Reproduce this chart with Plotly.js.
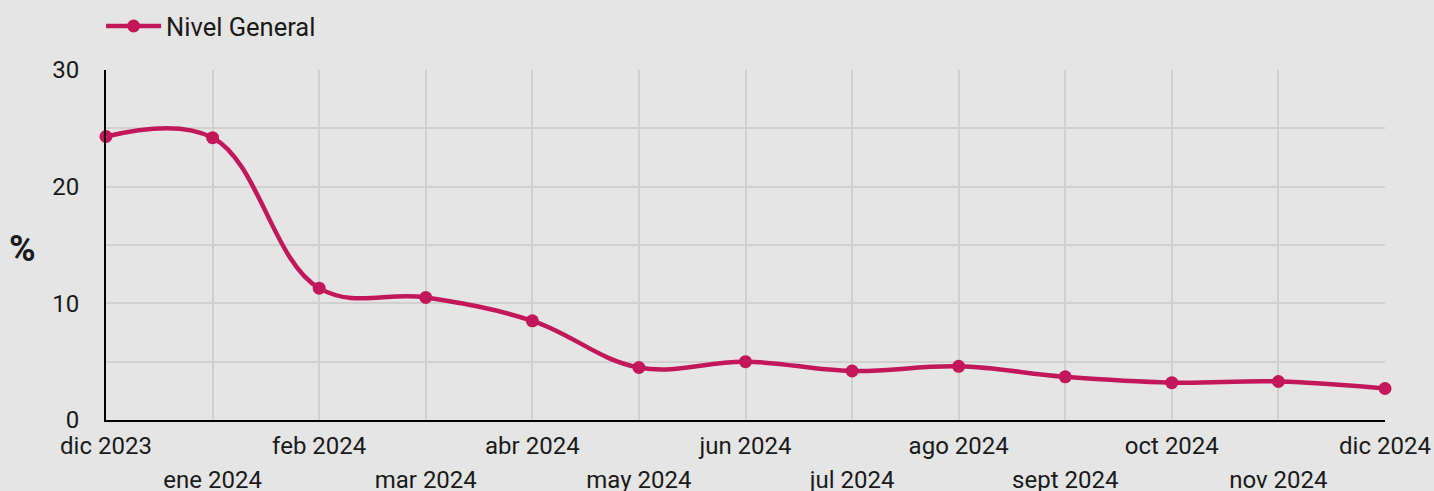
<!DOCTYPE html>
<html>
<head>
<meta charset="utf-8">
<script src="https://cdn.plot.ly/plotly-3.0.1.min.js"></script>
<style>
html,body{margin:0;padding:0;background:#e5e5e5;}
#chart{width:1434px;height:491px;}
</style>
</head>
<body>
<div id="chart"></div>
<script>
const months = ["dic 2023","ene 2024","feb 2024","mar 2024","abr 2024","may 2024","jun 2024","jul 2024","ago 2024","sept 2024","oct 2024","nov 2024","dic 2024"];
const nivelGeneral = [24.3, 24.2, 11.3, 10.5, 8.5, 4.5, 5.0, 4.2, 4.6, 3.7, 3.2, 3.3, 2.7];
const seriesName = "Nivel General";
const yTickVals = [0, 10, 20, 30];

const rowA = months.filter((m, i) => i % 2 === 0);

const color = "#c2185b";
const tickFont = {family: "Roboto, sans-serif", size: 24, color: "#1a1a1a"};

const traces = [
  {
    x: months, y: nivelGeneral, name: seriesName,
    type: "scatter", mode: "lines+markers",
    line: {color: color, width: 4.5, shape: "spline", smoothing: 1.1},
    marker: {color: color, size: 13},
    cliponaxis: false,
    xaxis: "x", yaxis: "y"
  },
  {
    x: months, y: nivelGeneral, name: "_",
    type: "scatter", mode: "lines",
    line: {color: "rgba(0,0,0,0)", width: 0},
    showlegend: false, hoverinfo: "skip",
    xaxis: "x2", yaxis: "y"
  }
];

const layout = {
  width: 1434, height: 491,
  paper_bgcolor: "#e5e5e5", plot_bgcolor: "#e5e5e5",
  margin: {l: 106, r: 49, t: 70, b: 71},
  font: {family: "Roboto, sans-serif", color: "#1a1a1a"},
  showlegend: true,
  legend: {
    orientation: "h", xref: "container", yref: "container",
    x: 0.0705, xanchor: "left", y: 0.994, yanchor: "top",
    font: {family: "Roboto, sans-serif", size: 25.5, color: "#1a1a1a"},
    bgcolor: "rgba(0,0,0,0)", itemwidth: 55
  },
  xaxis: {
    type: "category", categoryorder: "array", categoryarray: months,
    range: [0, 12],
    tickmode: "array", tickvals: rowA, ticktext: rowA,
    showgrid: false, zeroline: false,
    showline: true, linecolor: "#000", linewidth: 2,
    ticks: "", tickfont: tickFont, ticklabelstandoff: 3,
    fixedrange: true
  },
  xaxis2: {
    type: "category", categoryorder: "array", categoryarray: months,
    overlaying: "x", side: "bottom", anchor: "y",
    range: [0, 12],
    tickmode: "array", tickvals: months, ticktext: months.map((m, i) => i % 2 === 1 ? m : ""),
    showgrid: true, gridcolor: "#d0d0d0", gridwidth: 2,
    zeroline: false, showline: false,
    ticks: "", tickfont: tickFont, ticklabelstandoff: 43,
    fixedrange: true
  },
  yaxis: {
    range: [0, 30],
    tickmode: "array", tickvals: yTickVals,
    showgrid: true, gridcolor: "#d0d0d0", gridwidth: 2,
    minor: {dtick: 5, tick0: 0, showgrid: true, gridcolor: "#d0d0d0", gridwidth: 2},
    zeroline: false,
    showline: true, linecolor: "#000", linewidth: 2,
    ticks: "", tickfont: {family: "Roboto, sans-serif", size: 24, color: "#1a1a1a"},
    ticklabelstandoff: 20,
    fixedrange: true
  },
  annotations: [{
    text: "<b>%</b>", xref: "paper", yref: "paper",
    x: -0.0656, y: 0.49, xanchor: "center", yanchor: "middle",
    showarrow: false,
    font: {family: "Roboto, sans-serif", size: 36, color: "#1a1a1a"}
  }]
};

Plotly.newPlot("chart", traces, layout, {displayModeBar: false, staticPlot: true});
</script>
</body>
</html>
